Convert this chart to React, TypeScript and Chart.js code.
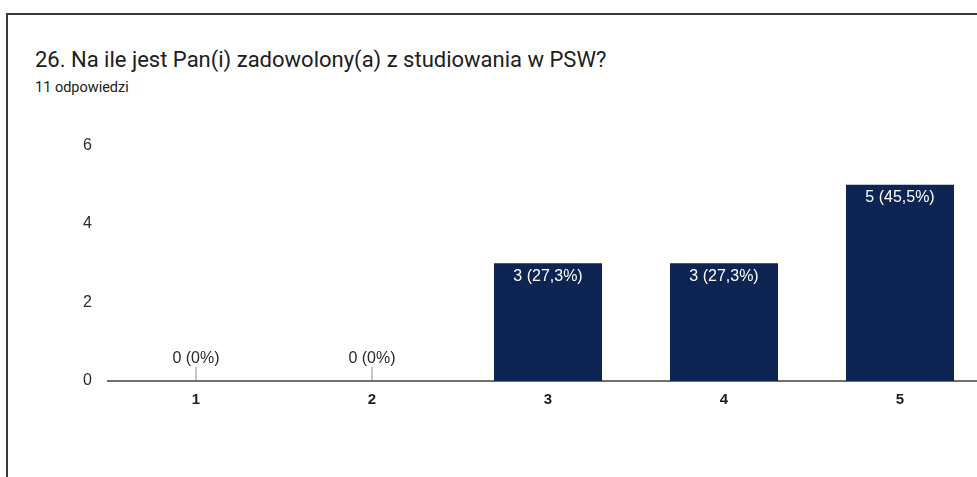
import React, { useEffect, useRef } from "react";
import { Chart, registerables } from "chart.js";

Chart.register(...registerables);

const TITLE = "26. Na ile jest Pan(i) zadowolony(a) z studiowania w PSW?";
const SUBTITLE = "11 odpowiedzi";
const categories = ["1", "2", "3", "4", "5"];
const counts = [0, 0, 3, 3, 5];
const percentLabels = ["0%", "0%", "27,3%", "27,3%", "45,5%"];
const yTicks = [0, 2, 4, 6];

const BAR_COLOR = "#0e2553";
const FONT = "'Liberation Sans', Arial, sans-serif";

const valueLabelPlugin = {
  id: "valueLabels",
  afterDatasetsDraw(chart: any) {
    const { ctx } = chart;
    const meta = chart.getDatasetMeta(0);
    const yScale = chart.scales.y;
    const zeroY = yScale.getPixelForValue(0);
    ctx.save();
    ctx.font = `16px ${FONT}`;
    ctx.textAlign = "center";
    ctx.textBaseline = "middle";
    meta.data.forEach((bar: any, i: number) => {
      const text = `${counts[i]} (${percentLabels[i]})`;
      if (counts[i] === 0) {
        ctx.strokeStyle = "#c4c4c4";
        ctx.lineWidth = 2;
        ctx.beginPath();
        ctx.moveTo(bar.x, zeroY - 14);
        ctx.lineTo(bar.x, zeroY - 1);
        ctx.stroke();
        ctx.fillStyle = "#2a2a2a";
        ctx.fillText(text, bar.x, zeroY - 22);
      } else {
        ctx.fillStyle = "#ffffff";
        ctx.fillText(text, bar.x, bar.y + 13);
      }
    });
    ctx.restore();
  },
};

export default function App() {
  const canvasRef = useRef<HTMLCanvasElement | null>(null);

  useEffect(() => {
    if (!canvasRef.current) return;
    const chart = new Chart(canvasRef.current, {
      type: "bar",
      data: {
        labels: categories,
        datasets: [
          {
            data: counts,
            backgroundColor: BAR_COLOR,
            barPercentage: 0.614,
            categoryPercentage: 1,
          },
        ],
      },
      options: {
        animation: false,
        responsive: false,
        maintainAspectRatio: false,
        layout: { padding: { top: 22, right: 2, left: 0, bottom: 0 } },
        plugins: {
          legend: { display: false },
          tooltip: { enabled: false },
        },
        scales: {
          x: {
            grid: { display: false, drawTicks: false },
            border: { display: true, color: "#6f6f6f", width: 2 },
            ticks: {
              padding: 10,
              color: "#1e1e1e",
              font: { family: FONT, size: 15, weight: "bold" },
            },
            afterFit(scale: any) {
              scale.height = 40;
            },
          },
          y: {
            min: 0,
            max: 6,
            afterBuildTicks(scale: any) {
              scale.ticks = yTicks.map((v) => ({ value: v }));
            },
            grid: { display: false, drawTicks: false },
            border: { display: false },
            ticks: {
              padding: 16,
              color: "#2a2a2a",
              font: { family: FONT, size: 16 },
            },
            afterFit(scale: any) {
              scale.width = 108;
            },
          },
        },
      },
      plugins: [valueLabelPlugin],
    });
    return () => chart.destroy();
  }, []);

  return (
    <div
      style={{
        position: "fixed",
        left: 0,
        top: 0,
        width: 977,
        height: 477,
        overflow: "hidden",
        background: "#ffffff",
      }}
    >
      <div
        style={{
          position: "absolute",
          left: 6,
          top: 13,
          width: 1000,
          height: 500,
          borderTop: "2px solid #3a3a3a",
          borderLeft: "2px solid #3a3a3a",
        }}
      />
      <div
        style={{
          position: "absolute",
          left: 35,
          top: 47,
          fontFamily: "Roboto, 'Liberation Sans', Arial, sans-serif",
          fontSize: 22,
          color: "#202020",
          whiteSpace: "nowrap",
          lineHeight: "26px",
        }}
      >
        {TITLE}
      </div>
      <div
        style={{
          position: "absolute",
          left: 35,
          top: 79,
          fontFamily: "Roboto, 'Liberation Sans', Arial, sans-serif",
          fontSize: 14.5,
          color: "#202020",
          whiteSpace: "nowrap",
          lineHeight: "17px",
        }}
      >
        {SUBTITLE}
      </div>
      <canvas
        ref={canvasRef}
        width={990}
        height={301}
        style={{ position: "absolute", left: 0, top: 120, width: 990, height: 301 }}
      />
    </div>
  );
}
